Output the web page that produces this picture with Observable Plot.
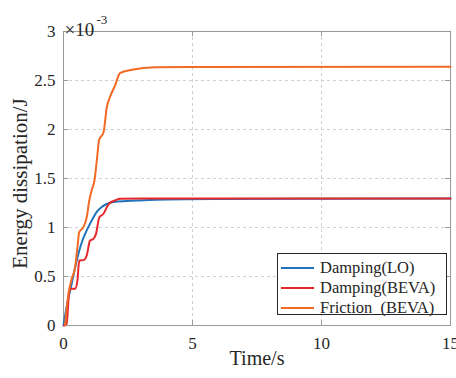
<!DOCTYPE html>
<html>
<head>
<meta charset="utf-8">
<script src="https://cdn.jsdelivr.net/npm/d3@7"></script>
<script src="https://cdn.jsdelivr.net/npm/@observablehq/plot@0.6"></script>
<style>
  body { margin: 0; background: #fff; }
  #wrap { position: relative; width: 456px; height: 378px; }
  #wrap svg text { font-family: "Liberation Serif", "DejaVu Serif", serif !important; }
  .legend { position: absolute; left: 277px; top: 253px; width: 170px; height: 62px;
    border: 1px solid #262626; background: #fff; box-sizing: border-box;
    font-family: "Liberation Serif", "DejaVu Serif", serif; font-size: 16.5px; color: #262626; }
  .row { position: absolute; left: 3px; height: 20px; display: flex; align-items: center; white-space: pre; }
  .sw { width: 33px; height: 0; border-top: 2px solid; margin-right: 6px; }
</style>
</head>
<body>
<div id="wrap"></div>
<script>
// ---- data (energy in units of 1e-3 J) ----
const seriesNames = ["Damping(LO)", "Damping(BEVA)", "Friction  (BEVA)"];
const seriesColors = ["#1f72bd", "#e5282c", "#f26a24"];

const timeLO = [0, 0.12, 0.32, 0.51, 0.71, 0.9, 1.09, 1.29, 1.48, 1.68, 1.93, 2.45, 2.97, 4, 6, 10, 15];
const dampLO = [0, 0.19, 0.43, 0.66, 0.85, 0.97, 1.07, 1.16, 1.21, 1.24, 1.26, 1.27, 1.276, 1.285, 1.29, 1.293, 1.295];

const timeDampBEVA = [0.02, 0.12, 0.23, 0.32, 0.45, 0.54, 0.61, 0.8, 0.9, 1.03, 1.16, 1.26, 1.39, 1.55, 1.68, 1.78, 2.0, 2.19, 3, 5, 15];
const dampBEVA = [0, 0.015, 0.357, 0.374, 0.374, 0.46, 0.663, 0.67, 0.714, 0.867, 0.884, 0.935, 1.105, 1.14, 1.207, 1.248, 1.276, 1.293, 1.295, 1.295, 1.295];

const timeFricBEVA = [0.06, 0.19, 0.32, 0.45, 0.54, 0.61, 0.77, 0.9, 1.0, 1.09, 1.2, 1.29, 1.38, 1.55, 1.68, 1.8, 2.0, 2.19, 2.65, 3.55, 5, 15];
const fricBEVA = [0, 0.323, 0.476, 0.595, 0.8, 0.952, 1.003, 1.105, 1.276, 1.378, 1.48, 1.68, 1.89, 1.97, 2.23, 2.33, 2.45, 2.575, 2.61, 2.635, 2.637, 2.64];

const xTicks = [0, 5, 10, 15];
const yTicks = [0, 0.5, 1, 1.5, 2, 2.5, 3];
const xLabel = "Time/s";
const yLabel = "Energy dissipation/J";
const multBase = "×10";
const multExp = "-3";

// ---- build ----
const toRows = (t, v) => t.map((x, i) => ({t: x, v: v[i]}));
const seriesData = [toRows(timeLO, dampLO), toRows(timeDampBEVA, dampBEVA), toRows(timeFricBEVA, fricBEVA)];

const W = 456, H = 378, mL = 63, mR = 6, mT = 31, mB = 53;
const plotW = W - mL - mR, plotH = H - mT - mB;
const textColor = "#262626";
const frameColor = "#9a9a9a";
const serif = '"Liberation Serif", "DejaVu Serif", serif';

const marks = [
  Plot.gridX(xTicks.slice(1, -1), {stroke: "#d0d0d0", strokeOpacity: 1, strokeDasharray: "3,3"}),
  Plot.gridY(yTicks.slice(1, -1), {stroke: "#d0d0d0", strokeOpacity: 1, strokeDasharray: "3,3"}),
  // inward ticks
  Plot.ruleX(xTicks, {stroke: frameColor, insetTop: plotH - 5}),
  Plot.ruleX(xTicks, {stroke: frameColor, insetBottom: plotH - 5}),
  Plot.ruleY(yTicks, {stroke: frameColor, insetRight: plotW - 5}),
  Plot.ruleY(yTicks, {stroke: frameColor, insetLeft: plotW - 5}),
  Plot.frame({stroke: frameColor}),
  Plot.axisX(xTicks, {tickSize: 0, tickPadding: 11, fontSize: 17, fontFamily: serif, label: null, fill: textColor}),
  Plot.axisY(yTicks, {tickSize: 0, tickPadding: 8, fontSize: 17, fontFamily: serif, label: null, fill: textColor, tickFormat: d => String(d)}),
  ...seriesData.map((d, i) => Plot.line(d, {x: "t", y: "v", stroke: seriesColors[i], strokeWidth: 2, curve: "monotone-x"})),
  Plot.text([xLabel], {frameAnchor: "bottom", textAnchor: "middle", dy: 39, fontSize: 20, fontFamily: serif, fill: textColor}),
  Plot.text([yLabel], {frameAnchor: "left", textAnchor: "middle", rotate: -90, dx: -43, dy: 5, fontSize: 21, fontFamily: serif, fill: textColor}),
  Plot.text([multBase], {frameAnchor: "top-left", textAnchor: "start", dx: 1, dy: -9, fontSize: 19, fontFamily: serif, fill: textColor}),
  Plot.text([multExp], {frameAnchor: "top-left", textAnchor: "start", dx: 33, dy: -17, fontSize: 13, fontFamily: serif, fill: textColor})
];

const chart = Plot.plot({
  width: W, height: H,
  marginLeft: mL, marginRight: mR, marginTop: mT, marginBottom: mB,
  x: {domain: [0, 15], axis: null},
  y: {domain: [0, 3], axis: null},
  style: {fontFamily: serif, background: "#fff", color: textColor, overflow: "visible"},
  marks
});

const wrap = document.getElementById("wrap");
wrap.appendChild(chart);

const legend = document.createElement("div");
legend.className = "legend";
seriesNames.forEach((name, i) => {
  const row = document.createElement("div");
  row.className = "row";
  row.style.top = (4 + i * 20) + "px";
  const sw = document.createElement("span");
  sw.className = "sw";
  sw.style.borderTopColor = seriesColors[i];
  const tx = document.createElement("span");
  tx.textContent = name;
  row.appendChild(sw);
  row.appendChild(tx);
  legend.appendChild(row);
});
wrap.appendChild(legend);
</script>
</body>
</html>
